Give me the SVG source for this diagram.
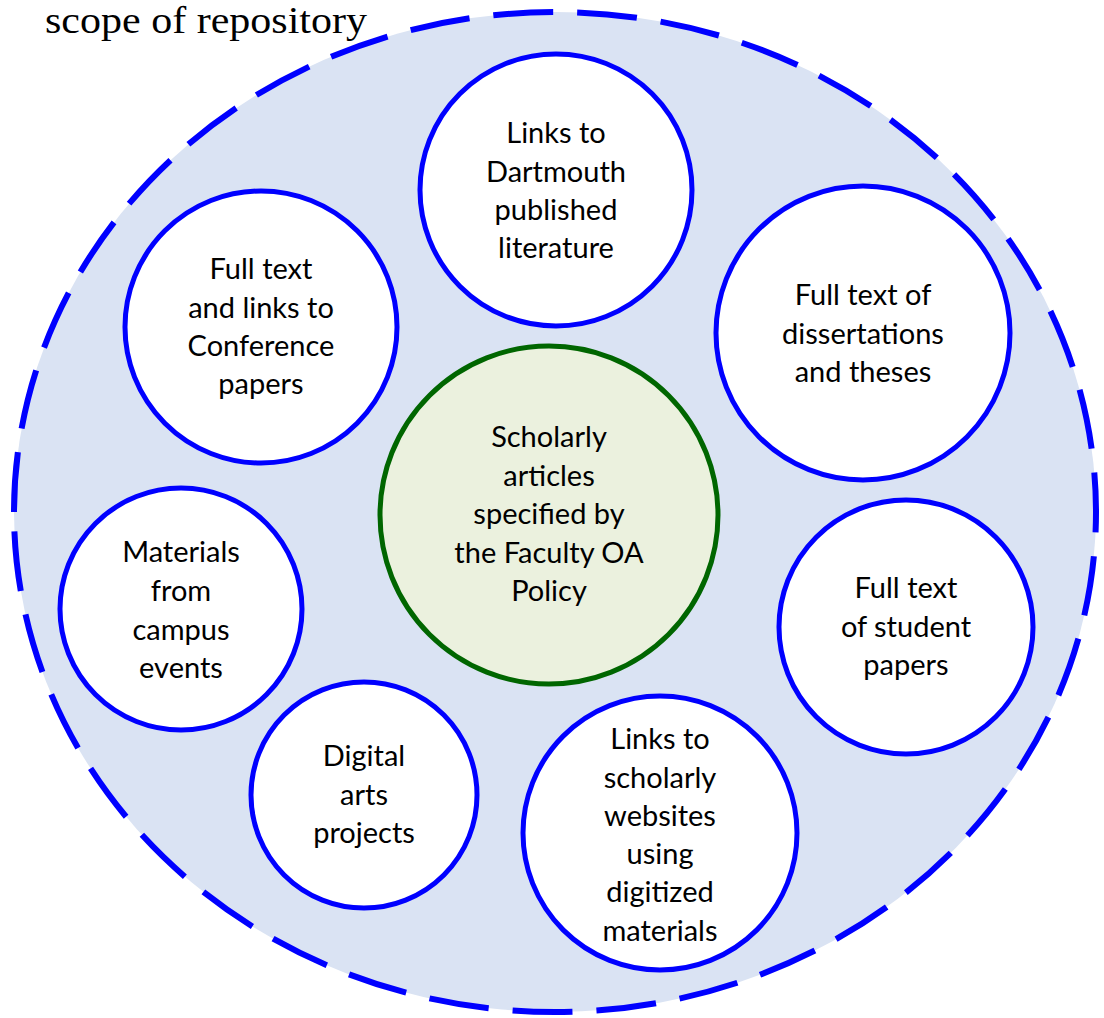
<svg xmlns="http://www.w3.org/2000/svg" width="1104" height="1018" viewBox="0 0 1104 1018">
<style>
.n{fill:#fff;stroke:#0000ff;stroke-width:5}
.c{fill:#ebf1de;stroke:#006600;stroke-width:5}
.t{font-family:Lato,"Liberation Sans",sans-serif;font-size:29px;fill:#000;text-anchor:middle}
</style>
<rect width="1104" height="1018" fill="#fff"/>
<text x="45" y="33" font-family="Liberation Serif,serif" font-size="38" textLength="322" lengthAdjust="spacingAndGlyphs">scope of repository</text>
<g id="scope">
<path d="M14 512 A541 500 0 0 1 1096 512 A541 500 0 0 1 14 512 Z" fill="#dae3f3" stroke="#0000ff" stroke-width="6" stroke-dasharray="60 24"/>
</g>
<g id="connectors"></g>
<g id="n1"><circle class="n" cx="556" cy="190" r="136"/>
<text class="t"><tspan x="556" y="143">Links to</tspan><tspan x="556" y="182">Dartmouth</tspan><tspan x="556" y="220">published</tspan><tspan x="556" y="258">literature</tspan></text></g>
<g id="n2"><circle class="n" cx="261" cy="327" r="136"/>
<text class="t"><tspan x="261" y="279">Full text</tspan><tspan x="261" y="318">and links to</tspan><tspan x="261" y="356">Conference</tspan><tspan x="261" y="394">papers</tspan></text></g>
<g id="n3"><circle class="n" cx="863" cy="333" r="147"/>
<text class="t"><tspan x="863" y="305">Full text of</tspan><tspan x="863" y="344">dissertations</tspan><tspan x="863" y="382">and theses</tspan></text></g>
<g id="center"><circle class="c" cx="549" cy="515" r="169"/>
<text class="t"><tspan x="549" y="447">Scholarly</tspan><tspan x="549" y="486">articles</tspan><tspan x="549" y="524">specified by</tspan><tspan x="549" y="563">the Faculty OA</tspan><tspan x="549" y="601">Policy</tspan></text></g>
<g id="n5"><circle class="n" cx="181" cy="609" r="121"/>
<text class="t"><tspan x="181" y="562">Materials</tspan><tspan x="181" y="601">from</tspan><tspan x="181" y="640">campus</tspan><tspan x="181" y="678">events</tspan></text></g>
<g id="n6"><circle class="n" cx="906" cy="627" r="127"/>
<text class="t"><tspan x="906" y="598">Full text</tspan><tspan x="906" y="637">of student</tspan><tspan x="906" y="675">papers</tspan></text></g>
<g id="n7"><circle class="n" cx="364" cy="795" r="113"/>
<text class="t"><tspan x="364" y="766">Digital</tspan><tspan x="364" y="805">arts</tspan><tspan x="364" y="843">projects</tspan></text></g>
<g id="n8"><circle class="n" cx="660" cy="833" r="137"/>
<text class="t"><tspan x="660" y="749">Links to</tspan><tspan x="660" y="788">scholarly</tspan><tspan x="660" y="826">websites</tspan><tspan x="660" y="864">using</tspan><tspan x="660" y="902">digitized</tspan><tspan x="660" y="941">materials</tspan></text></g>
</svg>
